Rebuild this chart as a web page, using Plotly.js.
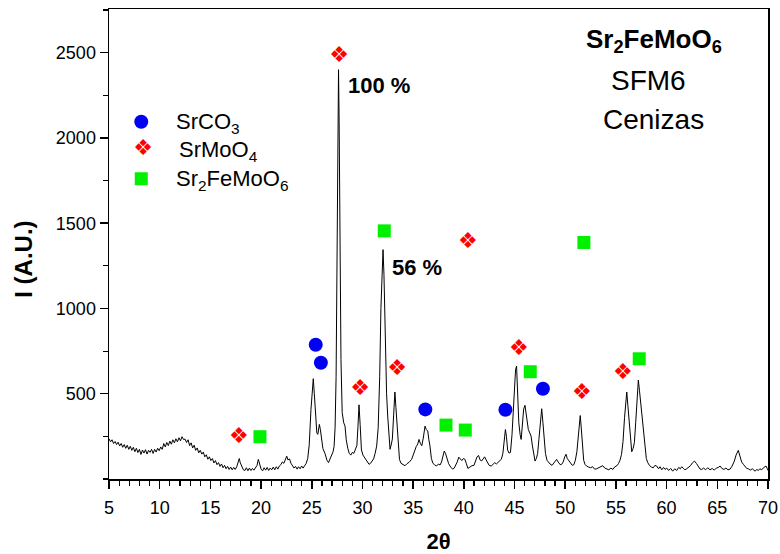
<!DOCTYPE html>
<html>
<head>
<meta charset="utf-8">
<script src="https://cdn.plot.ly/plotly-3.0.1.min.js"></script>
<style>html,body{margin:0;padding:0;background:#fff;}#chart{width:780px;height:554px;}</style>
</head>
<body>
<div id="chart"></div>
<script>
// XRD pattern (2θ in degrees, intensity in A.U.)
const twoTheta = [5.0,5.15,5.3,5.45,5.6,5.75,5.9,6.05,6.2,6.35,6.5,6.65,6.8,6.95,7.1,7.25,7.4,7.55,7.7,7.85,8.0,8.15,8.3,8.45,8.6,8.75,8.9,9.05,9.2,9.35,9.5,9.65,9.8,9.95,10.1,10.25,10.4,10.55,10.7,10.85,11.0,11.15,11.3,11.45,11.6,11.75,11.9,12.05,12.2,12.35,12.5,12.65,12.8,12.95,13.1,13.25,13.4,13.55,13.7,13.85,14.0,14.15,14.3,14.45,14.6,14.75,14.9,15.05,15.2,15.35,15.5,15.65,15.8,15.95,16.1,16.25,16.4,16.55,16.7,16.85,17.0,17.15,17.3,17.45,17.6,17.75,17.85,17.95,18.1,18.25,18.4,18.55,18.7,18.85,19.0,19.15,19.3,19.45,19.6,19.73,19.85,20.0,20.15,20.3,20.45,20.6,20.75,20.9,21.05,21.2,21.35,21.5,21.65,21.8,21.95,22.1,22.25,22.4,22.53,22.65,22.8,22.95,23.1,23.25,23.4,23.55,23.7,23.85,24.0,24.15,24.3,24.45,24.6,24.75,24.92,25.05,25.15,25.25,25.39,25.5,25.6,25.75,25.85,25.95,26.1,26.3,26.5,26.65,26.8,26.95,27.1,27.2,27.3,27.4,27.5,27.58,27.64,27.7,27.78,27.88,28.0,28.15,28.28,28.4,28.55,28.7,28.85,29.0,29.15,29.3,29.45,29.55,29.66,29.77,29.9,30.05,30.2,30.35,30.5,30.65,30.8,30.95,31.1,31.25,31.4,31.55,31.7,31.82,31.95,32.03,32.12,32.25,32.38,32.49,32.6,32.72,32.85,32.95,33.08,33.2,33.3,33.44,33.55,33.65,33.8,34.0,34.2,34.4,34.6,34.85,35.0,35.15,35.3,35.45,35.58,35.7,35.85,36.0,36.17,36.3,36.44,36.55,36.66,36.8,36.95,37.1,37.3,37.5,37.65,37.8,37.95,38.07,38.2,38.35,38.5,38.7,38.9,39.05,39.2,39.35,39.5,39.65,39.8,39.95,40.1,40.25,40.4,40.6,40.8,41.0,41.15,41.3,41.45,41.6,41.76,41.9,42.05,42.2,42.35,42.5,42.7,42.9,43.05,43.2,43.4,43.55,43.7,43.85,43.98,44.1,44.2,44.32,44.45,44.6,44.75,44.88,45.0,45.1,45.2,45.3,45.42,45.55,45.65,45.75,45.9,46.03,46.15,46.25,46.36,46.5,46.63,46.75,46.9,47.02,47.15,47.28,47.4,47.55,47.68,47.8,47.94,48.05,48.2,48.35,48.5,48.7,48.85,49.0,49.15,49.3,49.5,49.65,49.8,49.95,50.08,50.2,50.38,50.55,50.7,50.85,51.0,51.15,51.28,51.4,51.48,51.58,51.7,51.82,51.95,52.1,52.3,52.5,52.7,52.9,53.1,53.3,53.5,53.7,53.9,54.1,54.3,54.5,54.7,54.9,55.1,55.25,55.4,55.55,55.7,55.85,55.98,56.07,56.18,56.29,56.42,56.56,56.7,56.82,56.95,57.1,57.21,57.32,57.42,57.54,57.7,57.87,58.0,58.14,58.3,58.5,58.69,58.85,59.02,59.2,59.35,59.52,59.7,59.85,60.01,60.2,60.4,60.6,60.8,61.0,61.2,61.35,61.49,61.65,61.8,61.98,62.15,62.35,62.55,62.75,62.95,63.1,63.3,63.46,63.65,63.85,64.05,64.28,64.5,64.7,64.9,65.1,65.27,65.45,65.65,65.85,66.05,66.26,66.45,66.68,66.85,67.07,67.25,67.4,67.57,67.75,67.9,68.06,68.25,68.45,68.6,68.72,68.9,69.05,69.2,69.38,69.55,69.7,69.8,69.92,70.0];
const intensity = [236,218,230,208,220,202,216,194,208,186,202,180,198,174,192,168,186,160,180,155,174,144,170,152,172,146,168,156,174,150,174,158,180,166,188,174,208,188,214,196,222,204,230,212,236,218,242,224,248,232,234,214,230,196,212,182,198,168,182,154,168,146,158,130,142,116,130,108,120,94,108,84,96,74,88,66,80,60,74,56,70,54,68,56,72,95,120,95,70,54,50,66,48,64,50,62,52,68,80,115,80,58,48,66,52,68,50,64,54,70,54,72,58,76,84,100,92,122,134,112,118,92,78,64,74,58,72,60,76,64,78,92,120,200,408,540,588,500,349,270,262,320,290,230,178,150,110,96,118,134,160,190,300,600,1400,2200,2400,2100,1300,700,390,330,310,230,180,150,140,156,150,170,196,300,435,320,170,140,125,112,100,86,92,106,118,150,193,300,600,1000,1320,1345,1200,800,500,369,250,174,205,235,380,510,420,310,180,115,92,84,78,90,98,115,140,168,190,205,232,210,195,240,310,290,281,230,193,120,92,84,76,88,82,100,140,164,148,110,90,70,58,64,80,100,128,118,108,120,116,90,62,70,78,80,100,130,138,112,106,120,130,112,96,80,76,90,96,88,100,104,116,150,220,290,250,170,152,156,260,390,540,640,662,520,330,260,232,300,410,432,380,320,290,270,252,200,130,105,120,150,230,350,412,330,232,150,110,96,88,80,90,106,115,100,84,86,100,130,145,120,105,90,80,84,110,160,260,350,372,300,174,110,86,76,70,66,72,58,60,66,72,78,64,60,54,64,56,72,78,90,110,144,220,360,480,510,430,349,220,160,180,213,330,520,580,520,460,408,280,174,120,96,80,70,66,80,76,60,72,54,68,56,64,50,62,46,60,50,68,60,72,62,54,60,66,78,95,105,90,74,58,56,64,54,66,54,62,52,64,68,76,62,56,64,54,58,75,105,140,168,130,100,86,72,62,60,52,60,50,46,56,50,60,54,66,72,76,62,50];

// Phase markers (2θ, intensity position)
const srco3X = [25.39, 25.9, 36.2, 44.1, 47.8];
const srco3Y = [787, 682, 408, 406, 529];
const srmoo4X = [17.82, 27.71, 29.78, 33.43, 40.4, 45.43, 51.65, 55.69];
const srmoo4Y = [242, 2478, 523, 640, 1387, 761, 500, 621];
const sfmoX = [19.89, 32.15, 38.24, 40.14, 46.55, 51.84, 57.3];
const sfmoY = [248, 1455, 316, 287, 629, 1387, 705];

// Legend entries
const legendNames = ['SrCO<sub>3</sub>', 'SrMoO<sub>4</sub>', 'Sr<sub>2</sub>FeMoO<sub>6</sub>'];
const legendRow = [0.78, 0.5, 0.21];

const xTicks = [5,10,15,20,25,30,35,40,45,50,55,60,65,70];
const yTicks = [500,1000,1500,2000,2500];

const blue = 'rgb(0,0,245)', red = 'rgb(255,0,0)', green = 'rgb(0,240,0)';
const diamondGlyph = '\u2756';

const traces = [
  {x: twoTheta, y: intensity, mode: 'lines', line: {color: '#000', width: 1}, hoverinfo: 'skip', showlegend: false},
  {x: srco3X, y: srco3Y, mode: 'markers', marker: {symbol: 'circle', size: 14, color: blue}, showlegend: false},
  {x: srmoo4X, y: srmoo4Y, mode: 'text', text: srmoo4X.map(() => diamondGlyph), textposition: 'middle center',
   textfont: {family: 'DejaVu Sans', size: 22, color: red}, showlegend: false},
  {x: sfmoX, y: sfmoY, mode: 'markers', marker: {symbol: 'square', size: 13, color: green}, showlegend: false},
  // legend symbols on a hidden helper axis
  {x: [0.118], y: [legendRow[0]], xaxis: 'x2', yaxis: 'y2', mode: 'markers', marker: {symbol: 'circle', size: 14, color: blue}, showlegend: false, hoverinfo: 'skip'},
  {x: [0.129], y: [legendRow[1]], xaxis: 'x2', yaxis: 'y2', mode: 'text', text: [diamondGlyph], textposition: 'middle center', textfont: {family: 'DejaVu Sans', size: 22, color: red}, showlegend: false, hoverinfo: 'skip'},
  {x: [0.118], y: [legendRow[2]], xaxis: 'x2', yaxis: 'y2', mode: 'markers', marker: {symbol: 'square', size: 13, color: green}, showlegend: false, hoverinfo: 'skip'}
];

const F = 'Liberation Sans, Arial, sans-serif';
const annotations = [
  {x: 28.38, y: 2307, xref: 'x', yref: 'y', text: '<b>100 %</b>', showarrow: false, xanchor: 'left', yanchor: 'middle', font: {family: F, size: 22, color: '#000'}},
  {x: 32.72, y: 1242, xref: 'x', yref: 'y', text: '<b>56 %</b>', showarrow: false, xanchor: 'left', yanchor: 'middle', font: {family: F, size: 22, color: '#000'}},
  {x: 58.76, y: 2570, xref: 'x', yref: 'y', text: '<b>Sr<sub>2</sub>FeMoO<sub>6</sub></b>', showarrow: false, xanchor: 'center', yanchor: 'middle', font: {family: F, size: 26, color: '#000'}},
  {x: 58.24, y: 2336, xref: 'x', yref: 'y', text: 'SFM6', showarrow: false, xanchor: 'center', yanchor: 'middle', font: {family: F, size: 28, color: '#000'}},
  {x: 58.73, y: 2110, xref: 'x', yref: 'y', text: 'Cenizas', showarrow: false, xanchor: 'center', yanchor: 'middle', font: {family: F, size: 28, color: '#000'}},
  {x: -0.129, y: 0.4686, xref: 'paper', yref: 'paper', text: '<b>I (A.U.)</b>', textangle: -90, showarrow: false, xanchor: 'center', yanchor: 'middle', font: {family: F, size: 24, color: '#000'}}
];
const legendX = [0.3, 0.317, 0.3];
legendNames.forEach((n, i) => annotations.push({
  x: legendX[i], y: legendRow[i] - 0.015, xref: 'x2', yref: 'y2', text: n, showarrow: false, xanchor: 'left', yanchor: 'middle',
  font: {family: F, size: 22, color: '#000'}
}));

const layout = {
  width: 780, height: 554,
  margin: {l: 109, r: 12, t: 9, b: 75},
  paper_bgcolor: '#fff', plot_bgcolor: '#fff',
  showlegend: false,
  font: {family: F, color: '#000'},
  xaxis: {
    range: [5, 70], tickvals: xTicks, ticktext: xTicks.map(String), ticks: 'outside', ticklen: 8, tickwidth: 1.5, tickcolor: '#000',
    minor: {dtick: 1, ticks: 'outside', ticklen: 5, tickwidth: 1.2, tickcolor: '#000'},
    showline: true, linewidth: 1.5, linecolor: '#000', mirror: true, showgrid: false, zeroline: false,
    tickfont: {family: F, size: 18, color: '#000'}, ticklabelstandoff: 4,
    title: {text: '<b>2θ</b>', font: {family: F, size: 22, color: '#000'}, standoff: 19}
  },
  yaxis: {
    range: [0, 2756], tickvals: yTicks, ticktext: yTicks.map(String), ticks: 'outside', ticklen: 8, tickwidth: 1.5, tickcolor: '#000',
    minor: {dtick: 250, ticks: 'outside', ticklen: 5, tickwidth: 1.2, tickcolor: '#000'},
    showline: true, linewidth: 1.5, linecolor: '#000', mirror: true, showgrid: false, zeroline: false,
    tickfont: {family: F, size: 18, color: '#000'}
  },
  xaxis2: {domain: [0.0167, 0.29], range: [0, 1], anchor: 'y2', visible: false, fixedrange: true},
  yaxis2: {domain: [0.594, 0.807], range: [0, 1], anchor: 'x2', visible: false, fixedrange: true},
  annotations: annotations
};

Plotly.newPlot('chart', traces, layout, {displayModeBar: false, staticPlot: true});
</script>
</body>
</html>
